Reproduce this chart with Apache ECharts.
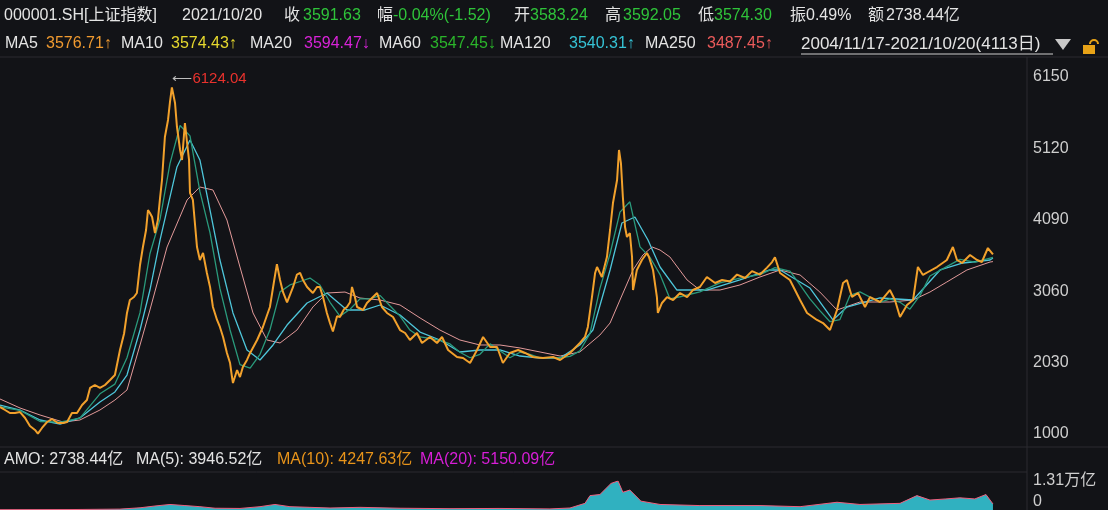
<!DOCTYPE html>
<html>
<head>
<meta charset="utf-8">
<title>000001.SH 上证指数</title>
<script src="https://cdn.jsdelivr.net/npm/echarts@6/dist/echarts.min.js"></script>
<style>
html, body { margin: 0; padding: 0; background: #121317; }
#chart { width: 1108px; height: 510px; }
</style>
</head>
<body>
<div id="chart"></div>
<script>
// 收盘价 [交易日序号, 点位]，2004/11/17 为第 0 日
const closeData = [
  [0,1390],[21,1346],[41,1303],[62,1303],[83,1317],[104,1231],[124,1115],[145,1058],[157,1005],[174,1087],
  [195,1173],[215,1216],[240,1159],[261,1159],[278,1173],[298,1303],[319,1303],[340,1418],[360,1490],[373,1664],
  [393,1707],[414,1664],[435,1707],[456,1779],[476,1851],[497,2212],[514,2450],[526,2746],[538,2933],[555,2976],
  [567,3034],[580,3438],[592,3698],[605,3943],[613,4231],[621,4188],[630,4130],[642,3900],[654,4087],[663,4405],
  [671,4664],[683,5285],[696,5530],[704,5789],[712,6000],[725,5775],[733,5429],[746,5097],[754,4953],[766,5486],
  [775,5198],[783,4953],[787,4477],[799,4376],[816,3698],[828,3510],[841,3611],[857,3323],[870,3121],[882,2832],
  [899,2645],[911,2544],[924,2399],[940,2169],[953,2024],[961,1822],[965,1736],[982,1923],[994,1822],[1006,1967],
  [1023,2068],[1036,2169],[1065,2356],[1089,2544],[1118,2832],[1135,3200],[1147,3450],[1160,3222],[1172,3050],[1189,2900],
  [1214,3121],[1230,3300],[1243,3323],[1255,3222],[1272,3121],[1284,3077],[1296,3034],[1313,3121],[1325,3121],[1338,2976],
  [1354,2746],[1367,2600],[1379,2480],[1396,2700],[1408,2688],[1425,2800],[1437,2832],[1450,2900],[1458,3121],[1470,2976],
  [1479,2832],[1504,2789],[1520,2890],[1545,2976],[1562,3034],[1582,2832],[1603,2746],[1628,2688],[1657,2500],[1678,2457],
  [1698,2356],[1727,2457],[1748,2313],[1781,2399],[1810,2313],[1831,2399],[1856,2212],[1893,2111],[1918,2096],[1947,2024],
  [1976,2212],[2001,2399],[2030,2255],[2059,2255],[2083,2024],[2112,2169],[2146,2212],[2175,2169],[2208,2111],[2249,2096],
  [2291,2111],[2320,2068],[2361,2169],[2402,2313],[2423,2400],[2435,2544],[2452,2976],[2465,3323],[2473,3409],[2493,3265],
  [2514,3553],[2527,3943],[2539,4332],[2556,4664],[2564,5097],[2572,4909],[2576,4664],[2580,4419],[2589,3986],[2597,3842],
  [2609,3900],[2618,3553],[2622,3077],[2638,3366],[2659,3510],[2680,3611],[2688,3553],[2705,3366],[2721,2976],[2725,2746],
  [2742,2890],[2763,2976],[2788,2933],[2817,3034],[2846,2976],[2870,3077],[2899,3121],[2928,3265],[2962,3178],[2991,3222],
  [3024,3200],[3053,3300],[3086,3250],[3115,3350],[3148,3300],[3177,3400],[3198,3480],[3210,3550],[3231,3323],[3272,3222],
  [3314,2933],[3343,2746],[3384,2645],[3409,2601],[3438,2500],[3467,2789],[3492,3178],[3508,3222],[3529,2976],[3554,3034],
  [3583,2832],[3604,2976],[3645,2904],[3686,3077],[3707,2933],[3728,2688],[3757,2861],[3782,2933],[3802,3409],[3823,3294],
  [3844,3337],[3881,3409],[3922,3510],[3947,3698],[3964,3510],[3985,3467],[4018,3582],[4047,3510],[4067,3481],[4092,3683],
  [4113,3592]
];

const ma60Data = [
  [0,1390],[83,1340],[166,1180],[249,1170],[331,1230],[414,1580],[476,1720],[526,2100],[580,2750],[621,3600],
  [663,4100],[704,4900],[746,5450],[787,5300],[828,4500],[870,3900],[911,3100],[953,2500],[994,2000],[1036,1950],
  [1077,2150],[1118,2500],[1160,3050],[1201,3150],[1243,3200],[1284,3250],[1325,3150],[1367,2900],[1408,2700],[1450,2800],
  [1491,2950],[1533,2950],[1574,3000],[1615,2850],[1657,2700],[1698,2500],[1740,2400],[1781,2380],[1822,2350],[1864,2300],
  [1905,2180],[1947,2100],[1988,2150],[2030,2300],[2071,2200],[2112,2100],[2154,2180],[2195,2150],[2237,2100],[2278,2100],
  [2320,2100],[2361,2120],[2402,2200],[2444,2450],[2485,3100],[2527,3600],[2568,4200],[2609,4350],[2651,3700],[2692,3550],
  [2734,3300],[2775,2950],[2817,2980],[2899,3050],[2982,3180],[3065,3250],[3148,3300],[3210,3400],[3272,3350],[3314,3150],
  [3355,2950],[3396,2780],[3438,2620],[3479,2650],[3521,3000],[3562,3050],[3645,2900],[3686,2950],[3728,2900],[3769,2800],
  [3811,3000],[3852,3280],[3914,3400],[3976,3520],[4038,3480],[4113,3547]
];

const ma120Data = [
  [0,1418],[83,1346],[166,1202],[249,1144],[331,1231],[414,1462],[476,1606],[526,1851],[580,2500],[621,3077],
  [663,3799],[733,4852],[787,5241],[828,4953],[870,4231],[911,3510],[965,2746],[1023,2212],[1077,2068],[1131,2284],
  [1189,2572],[1272,2890],[1354,3034],[1437,2789],[1512,2789],[1574,2861],[1657,2717],[1740,2471],[1822,2356],[1905,2183],
  [1988,2212],[2071,2212],[2154,2125],[2237,2096],[2320,2096],[2402,2284],[2456,2500],[2527,3366],[2576,4044],[2630,4130],
  [2684,3799],[2734,3409],[2804,3077],[2928,3077],[3065,3222],[3189,3366],[3231,3366],[3355,3106],[3450,2645],[3508,2832],
  [3645,2962],[3782,2933],[3894,3366],[3989,3467],[4101,3510],[4113,3540]
];

const ma250Data = [
  [0,1505],[83,1375],[166,1274],[261,1173],[331,1202],[414,1346],[476,1490],[526,1635],[580,2284],[621,2789],
  [692,3698],[775,4376],[828,4563],[882,4520],[940,4087],[994,3409],[1048,2746],[1106,2356],[1160,2313],[1230,2500],
  [1296,2832],[1354,3034],[1429,3048],[1491,2962],[1574,2933],[1657,2861],[1740,2674],[1822,2500],[1905,2356],[1988,2284],
  [2071,2284],[2154,2241],[2237,2183],[2320,2125],[2402,2183],[2485,2428],[2527,2601],[2568,2933],[2622,3366],[2663,3582],
  [2701,3698],[2734,3654],[2775,3553],[2846,3222],[2899,3077],[2982,3077],[3065,3150],[3148,3265],[3231,3366],[3314,3294],
  [3396,3048],[3467,2789],[3562,2904],[3686,2904],[3782,2933],[3852,3048],[3922,3193],[4005,3366],[4101,3481],[4113,3487]
];

// 成交额（亿）
const amountData = [
  [0,150],[290,200],[497,400],[580,1000],[642,1800],[704,2500],[766,2000],[828,1500],[891,800],[994,700],
  [1077,1500],[1139,2500],[1201,1500],[1284,1200],[1367,900],[1491,1200],[1657,800],[1864,600],[2071,700],[2278,500],
  [2361,900],[2423,3000],[2444,6500],[2485,7000],[2531,12000],[2560,13100],[2580,8000],[2609,9000],[2655,4000],[2734,2500],
  [2899,2000],[3148,2000],[3314,1500],[3467,3500],[3562,2500],[3728,3000],[3798,6500],[3852,4500],[3918,5000],[3976,5500],
  [4038,5000],[4084,7000],[4113,2738]
];

const priceMin = 1000;
const priceMax = 6150;
const priceStep = 1030;
const amountMax = 13100;
const highPoint = [712, 6124.04];
const lowPoint = [157, 998.23];

const FONT = '"Liberation Sans", "Noto Sans CJK SC", sans-serif';

function txt(x, y, text, color, size) {
  return {
    type: 'text', x: x, y: y, silent: true,
    style: { text: text, fill: color, font: (size || 16) + 'px ' + FONT, verticalAlign: 'middle', align: 'left' }
  };
}
function hline(x1, x2, y, color) {
  return { type: 'line', silent: true, shape: { x1: x1, y1: y, x2: x2, y2: y }, style: { stroke: color || '#2a2b30', lineWidth: 1 } };
}

const WHITE = '#e4e4e4';
const GREEN = '#2fc43a';

const header = [
  txt(4, 16, '000001.SH[上证指数]', WHITE),
  txt(182, 16, '2021/10/20', WHITE),
  txt(284, 16, '收', WHITE), txt(303, 16, '3591.63', GREEN),
  txt(377, 16, '幅', WHITE), txt(393, 16, '-0.04%(-1.52)', GREEN),
  txt(514, 16, '开', WHITE), txt(530, 16, '3583.24', GREEN),
  txt(605, 16, '高', WHITE), txt(623, 16, '3592.05', GREEN),
  txt(698, 16, '低', WHITE), txt(714, 16, '3574.30', GREEN),
  txt(790, 16, '振', WHITE), txt(806, 16, '0.49%', WHITE),
  txt(868, 16, '额', WHITE), txt(886, 16, '2738.44亿', WHITE),

  txt(5, 44, 'MA5', WHITE), txt(46, 44, '3576.71↑', '#f09a30'),
  txt(121, 44, 'MA10', WHITE), txt(171, 44, '3574.43↑', '#e6d82e'),
  txt(250, 44, 'MA20', WHITE), txt(304, 44, '3594.47↓', '#d823d8'),
  txt(379, 44, 'MA60', WHITE), txt(430, 44, '3547.45↓', '#2bb52b'),
  txt(500, 44, 'MA120', WHITE), txt(569, 44, '3540.31↑', '#36c3d6'),
  txt(645, 44, 'MA250', WHITE), txt(707, 44, '3487.45↑', '#ec5b5b'),
  txt(801, 44, '2004/11/17-2021/10/20(4113日)', WHITE, 17),
  hline(801, 1053, 54, '#cfcfcf'),
  { type: 'polygon', silent: true, shape: { points: [[1055, 39], [1071, 39], [1063, 50]] }, style: { fill: '#c8c8c8' } },
  { type: 'rect', silent: true, shape: { x: 1083, y: 45, width: 12, height: 9 }, style: { fill: '#e8a317' } },
  { type: 'arc', silent: true, shape: { cx: 1094, cy: 44, r: 4, startAngle: Math.PI, endAngle: Math.PI * 2 }, style: { stroke: '#e8a317', fill: null, lineWidth: 2 } },

  hline(0, 1108, 57),
  hline(0, 1108, 447),
  hline(0, 1027, 472),
  { type: 'line', silent: true, shape: { x1: 1027, y1: 57, x2: 1027, y2: 510 }, style: { stroke: '#2a2b30', lineWidth: 1 } },

  txt(4, 460, 'AMO: 2738.44亿', WHITE),
  txt(136, 460, 'MA(5): 3946.52亿', WHITE),
  txt(277, 460, 'MA(10): 4247.63亿', '#e8941a'),
  txt(420, 460, 'MA(20): 5150.09亿', '#d81ed8')
];

// 成交额面板的两个右侧刻度：一个只显示最大值，一个只显示 0
function amountAxis(showMax) {
  return {
    type: 'value', gridIndex: 1, position: 'right',
    min: 0, max: amountMax, interval: amountMax,
    axisLine: { show: false }, axisTick: { show: false }, splitLine: { show: false },
    axisLabel: {
      color: '#cfcfcf', fontSize: 16, margin: 6, fontFamily: FONT,
      showMinLabel: !showMax, showMaxLabel: showMax,
      verticalAlign: showMax ? 'middle' : 'bottom',
      padding: showMax ? [8, 0, 0, 0] : [0, 0, 0, 0],
      formatter: function (v) { return v ? (v / 10000).toFixed(2) + '万亿' : '0'; }
    }
  };
}

const chart = echarts.init(document.getElementById('chart'));

const option = {
  backgroundColor: '#121317',
  animation: false,
  graphic: header,
  grid: [
    { left: 0, right: 81, top: 77, bottom: 76, containLabel: false, outerBoundsMode: 'none' },
    { left: 0, right: 81, top: 481, bottom: 0, containLabel: false, outerBoundsMode: 'none' }
  ],
  xAxis: [
    { type: 'value', gridIndex: 0, min: 0, max: 4254, show: false },
    { type: 'value', gridIndex: 1, min: 0, max: 4254, show: false }
  ],
  yAxis: [
    {
      type: 'value', gridIndex: 0, position: 'right',
      min: priceMin, max: priceMax, interval: priceStep,
      axisLine: { show: false }, axisTick: { show: false }, splitLine: { show: false },
      axisLabel: {
        color: '#cfcfcf', fontSize: 16, margin: 6, fontFamily: FONT,
        showMinLabel: true, showMaxLabel: true,
        formatter: function (v) { return String(v); }
      }
    },
    amountAxis(true),
    amountAxis(false)
  ],
  series: [
    {
      name: 'MA250', type: 'line', data: ma250Data, showSymbol: false, z: 2,
      lineStyle: { color: '#e39a9a', width: 1 }
    },
    {
      name: 'MA120', type: 'line', data: ma120Data, showSymbol: false, z: 3,
      lineStyle: { color: '#4ec6da', width: 1.3 }
    },
    {
      name: 'MA60', type: 'line', data: ma60Data, showSymbol: false, z: 3,
      lineStyle: { color: '#2a9a7c', width: 1.3 }
    },
    {
      name: '收盘', type: 'line', data: closeData, showSymbol: false, z: 5,
      lineStyle: { color: '#f2a12c', width: 2 },
      markPoint: {
        symbol: 'circle', symbolSize: 1,
        itemStyle: { color: 'rgba(0,0,0,0)' },
        data: [
          {
            coord: highPoint,
            label: {
              show: true, position: 'right', distance: 0,
              formatter: '{a|⟵}{b|' + highPoint[1].toFixed(2) + '}',
              rich: {
                a: { color: '#bdbdbd', fontSize: 14, fontFamily: FONT },
                b: { color: '#e8322d', fontSize: 15, fontFamily: FONT }
              }
            }
          },
          {
            coord: lowPoint,
            label: {
              show: true, position: 'right', distance: 14,
              formatter: lowPoint[1].toFixed(2),
              color: '#2ecc40', fontSize: 15, fontFamily: FONT
            }
          }
        ]
      }
    },
    {
      name: '成交额', type: 'line', xAxisIndex: 1, yAxisIndex: 1, data: amountData,
      showSymbol: false, z: 2,
      lineStyle: { color: '#ef5f7e', width: 1 },
      areaStyle: { color: '#34c3d3', opacity: 0.9 }
    }
  ]
};

chart.setOption(option);
window.addEventListener('resize', function () { chart.resize(); });
</script>
</body>
</html>
